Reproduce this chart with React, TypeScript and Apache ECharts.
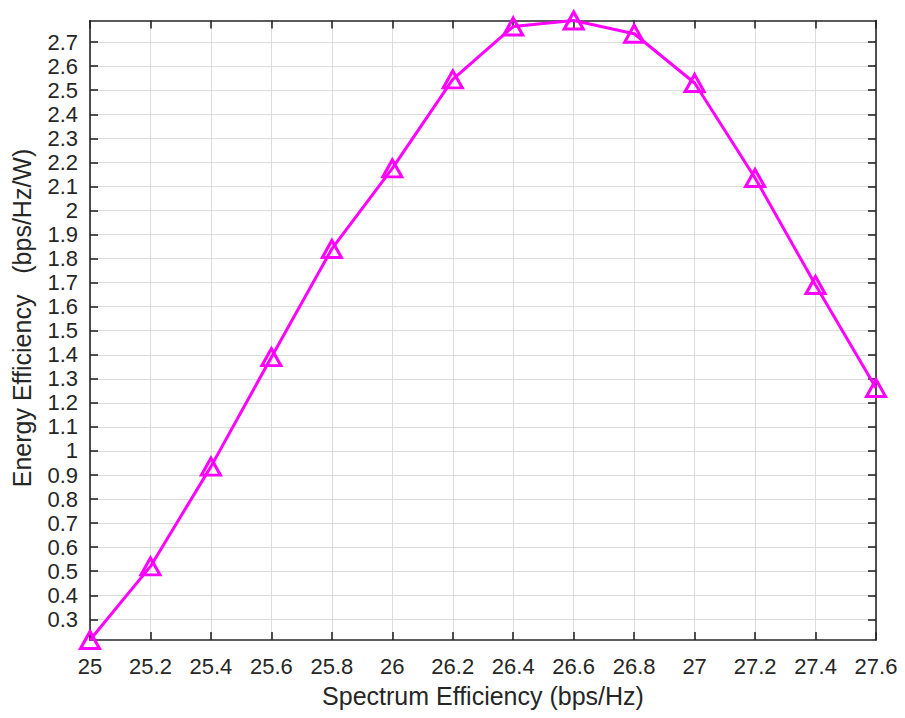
import React, { useEffect, useRef } from "react";
import * as echarts from "echarts";

const seValues = [25, 25.2, 25.4, 25.6, 25.8, 26, 26.2, 26.4, 26.6, 26.8, 27, 27.2, 27.4, 27.6];
const eeValues = [0.214, 0.52, 0.935, 1.39, 1.84, 2.175, 2.545, 2.765, 2.79, 2.735, 2.53, 2.135, 1.69, 1.262];
const yTickValues = [0.3, 0.4, 0.5, 0.6, 0.7, 0.8, 0.9, 1, 1.1, 1.2, 1.3, 1.4, 1.5, 1.6, 1.7, 1.8, 1.9, 2, 2.1, 2.2, 2.3, 2.4, 2.5, 2.6, 2.7];
const xTitle = "Spectrum Efficiency (bps/Hz)";
const yTitle = "Energy Efficiency   (bps/Hz/W)";

const FONT = "'Liberation Sans', Arial, Helvetica, sans-serif";
const AX = "#262626";
const GRIDC = "#dcdcdc";

export default function App() {
  const ref = useRef<HTMLDivElement>(null);
  useEffect(() => {
    if (!ref.current) return;
    const chart = echarts.init(ref.current, undefined, { renderer: "svg" });
    const fmt = (v: number) => String(Math.round(v * 10) / 10);
    const yMin = 0.214;
    const yMax = 2.79;
    chart.setOption({
      animation: false,
      backgroundColor: "#ffffff",
      grid: { left: 90, right: 29, top: 20.5, bottom: 78, containLabel: false },
      xAxis: [
        {
          type: "value",
          min: 25,
          max: 27.6,
          interval: 0.2,
          position: "bottom",
          name: xTitle,
          nameLocation: "middle",
          nameGap: 43,
          nameTextStyle: { fontFamily: FONT, fontSize: 25, color: AX },
          axisLine: { show: true, onZero: false, lineStyle: { color: AX, width: 1.6 } },
          axisTick: { show: true, inside: true, length: 8, lineStyle: { color: AX, width: 1.6 } },
          axisLabel: { fontFamily: FONT, fontSize: 22, color: AX, margin: 15, formatter: fmt, showMinLabel: true, showMaxLabel: true },
          splitLine: { show: true, lineStyle: { color: GRIDC, width: 1 } },
        },
        {
          type: "value",
          min: 25,
          max: 27.6,
          interval: 0.2,
          position: "top",
          axisLine: { show: true, onZero: false, lineStyle: { color: AX, width: 1.6 } },
          axisTick: { show: true, inside: true, length: 8, lineStyle: { color: AX, width: 1.6 } },
          axisLabel: { show: false },
          splitLine: { show: false },
        },
      ],
      yAxis: [
        {
          type: "value",
          min: yMin,
          max: yMax,
          position: "left",
          axisLine: { show: true, onZero: false, lineStyle: { color: AX, width: 1.6 } },
          axisTick: { show: true, inside: true, length: 8, customValues: yTickValues, lineStyle: { color: AX, width: 1.6 } },
          axisLabel: { fontFamily: FONT, fontSize: 22, color: AX, margin: 12, customValues: yTickValues, formatter: fmt },
          splitLine: { show: true, lineStyle: { color: GRIDC, width: 1 } },
        },
        {
          type: "value",
          min: yMin,
          max: yMax,
          position: "right",
          axisLine: { show: true, onZero: false, lineStyle: { color: AX, width: 1.6 } },
          axisTick: { show: true, inside: true, length: 8, customValues: yTickValues, lineStyle: { color: AX, width: 1.6 } },
          axisLabel: { show: false },
          splitLine: { show: false },
        },
      ],
      graphic: [
        {
          type: "text",
          x: 22,
          y: 318,
          rotation: Math.PI / 2,
          style: {
            text: yTitle,
            fontFamily: FONT,
            fontSize: 25,
            fill: AX,
            align: "center",
            verticalAlign: "middle",
          },
        },
      ],
      series: [
        {
          type: "line",
          xAxisIndex: 0,
          yAxisIndex: 0,
          data: seValues.map((x, i) => [x, eeValues[i]]),
          symbol: "triangle",
          symbolSize: [19, 17],
          showSymbol: true,
          lineStyle: { color: "#ff00ff", width: 3 },
          itemStyle: { color: "rgba(0,0,0,0)", borderColor: "#ff00ff", borderWidth: 3 },
          clip: false,
          z: 5,
        },
      ],
    });
    return () => chart.dispose();
  }, []);
  return (
    <div
      ref={ref}
      style={{ position: "fixed", left: 0, top: 0, width: 905, height: 718, background: "#fff" }}
    />
  );
}
